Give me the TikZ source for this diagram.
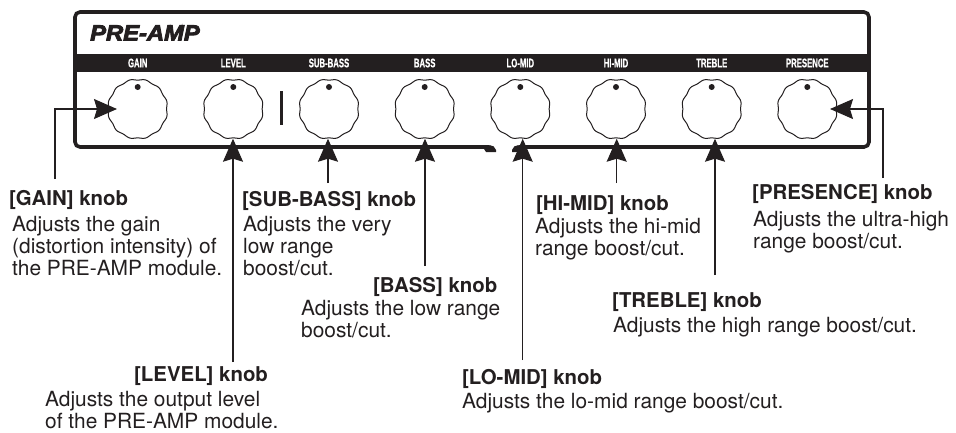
\documentclass[tikz,border=0pt]{standalone}
\usepackage{fontspec}
\setmainfont{TeX Gyre Heros}
\newfontfamily\condfont[FakeStretch=0.62,FakeBold=0.6]{Liberation Sans Bold}
\newfontfamily\headfont[FakeStretch=1.08,FakeBold=4]{Liberation Sans Bold Italic}
\usetikzlibrary{arrows.meta}
\definecolor{ink}{HTML}{231F20}
\tikzset{
  title/.style={anchor=base west,inner sep=0pt,text=ink,font=\fontsize{20.4}{22}\selectfont\bfseries},
  body/.style={anchor=north west,inner sep=0pt,align=left,text=ink,font=\fontsize{20.9}{22}\selectfont},
  knobnode/.style={circle,minimum size=59pt,inner sep=0pt},
  knobline/.style={draw=ink,line width=1pt},
  wire/.style={draw=ink,line width=1.2pt,-{Stealth[length=23pt,width=20pt,inset=3pt]}},
  tag/.style={inner sep=0pt,text=white,font=\fontsize{12.5}{12.5}\selectfont\condfont},
  frameline/.style={draw=ink,line width=3.6pt,rounded corners=5pt},
}
\begin{document}
\begin{tikzpicture}[x=1pt,y=-1pt]
\useasboundingbox (0,0) rectangle (956,432);
% panel
\fill[ink] (75,53.5) rectangle (869,71.5);
\draw[frameline] (489,147) -- (75,147) -- (75,12) -- (869,12) -- (869,147) -- (519,147);
\fill[ink] (483,146) -- (490,145.2) .. controls (493,145.2) and (495,147) .. (496,150) -- (496,152) -- (486,152) -- (484,149) -- cycle;
\fill[ink] (525,146) -- (518,145.2) .. controls (515,145.2) and (513,147) .. (512,150) -- (512,152) -- (522,152) -- (524,149) -- cycle;
\fill[ink] (279.5,91) rectangle (282.5,125);
\node[anchor=base west,inner sep=0pt,text=ink,font=\fontsize{22}{22}\selectfont\headfont] (head) at (90,40.5) {PRE-AMP};
% knobs and tags
\foreach \nm/\cx/\lab in {gain/137.7/GAIN,level/233.3/LEVEL,sub/329/SUB-BASS,bass/424.7/BASS,lomid/520.3/LO-MID,himid/616/HI-MID,treble/711.7/TREBLE,presence/807.3/PRESENCE}{
  \node[knobnode] (k\nm) at (\cx,109) {};
  \draw[knobline] plot[smooth cycle,samples=120,domain=0:357,variable=\ang] ({\cx+(29.5-0.6*cos(12*\ang))*cos(\ang)},{109+(29.5-0.6*cos(12*\ang))*sin(\ang)});
  \fill[ink] (\cx,87) circle (3pt);
  \node[tag] (t\nm) at (\cx,63) {\lab};
}
% free ends
\coordinate (cgain) at (55,179);
\coordinate (clevel) at (233,362);
\coordinate (csub) at (328,183);
\coordinate (cbass) at (425,266);
\coordinate (clomid) at (522.7,360);
\coordinate (chimid) at (616.7,183);
\coordinate (ctreble) at (715,275);
\coordinate (cpresence) at (883,178);
% connectors
\draw[wire] (cgain) |- ([xshift=9pt]kgain.west);
\draw[wire] (clevel) -- (clevel |- klevel.south);
\draw[wire] (csub) -- (csub |- ksub.south);
\draw[wire] (cbass) -- (cbass |- kbass.south);
\draw[wire] (clomid) -- (clomid |- klomid.south);
\draw[wire] (chimid) -- (chimid |- khimid.south);
\draw[wire] (ctreble) -- (ctreble |- ktreble.south);
\draw[wire] (cpresence) |- ([xshift=-7pt]kpresence.east);
% labels
\node[title] (lgain) at (9,205) {[GAIN] knob};
\node[body] (bgain) at (12,215.8) {Adjusts the gain\\(distortion intensity) of\\the PRE-AMP module.};
\node[title] (llevel) at (134,381) {[LEVEL] knob};
\node[body] (blevel) at (45,390.8) {Adjusts the output level\\of the PRE-AMP module.};
\node[title] (lsub) at (242,206) {[SUB-BASS] knob};
\node[body] (bsub) at (243,215.8) {Adjusts the very\\low range\\boost/cut.};
\node[title] (lbass) at (373,292) {[BASS] knob};
\node[body] (bbass) at (301,299.8) {Adjusts the low range\\boost/cut.};
\node[title] (llomid) at (462,384) {[LO-MID] knob};
\node[body] (blomid) at (462,392.8) {Adjusts the lo-mid range boost/cut.};
\node[title] (lhimid) at (536,210) {[HI-MID] knob};
\node[body] (bhimid) at (535,218.3) {Adjusts the hi-mid\\range boost/cut.};
\node[title] (ltreble) at (612,307) {[TREBLE] knob};
\node[body] (btreble) at (613,316.8) {Adjusts the high range boost/cut.};
\node[title] (lpresence) at (752,199) {[PRESENCE] knob};
\node[body] (bpresence) at (753,210.8) {Adjusts the ultra-high\\range boost/cut.};
\end{tikzpicture}
\end{document}
